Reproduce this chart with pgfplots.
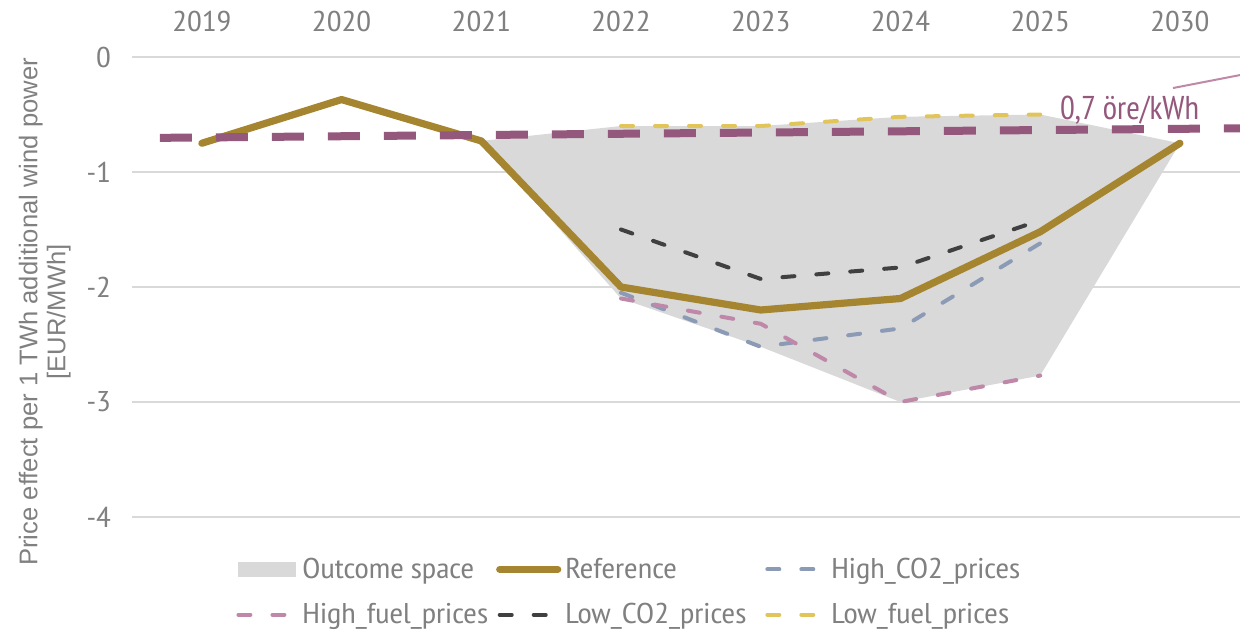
\documentclass[border=0pt]{standalone}
\usepackage{fontspec}
\setmainfont{PT Sans Narrow}[FakeStretch=1.15]
\newfontfamily\plainnarrow{PT Sans Narrow}
\newfontfamily\labfont{Liberation Sans}
\usepackage{pgfplots}
\pgfplotsset{compat=1.18}
\definecolor{refgold}{RGB}{166,133,48}
\definecolor{purp}{RGB}{149,88,125}
\definecolor{hco2}{RGB}{140,155,181}
\definecolor{hfuel}{RGB}{191,136,168}
\definecolor{lco2}{RGB}{64,64,64}
\definecolor{lfuel}{RGB}{226,197,90}
\definecolor{outc}{RGB}{217,217,217}
\definecolor{gridc}{RGB}{217,217,217}
\definecolor{txtgray}{RGB}{128,128,128}
\begin{document}
\begin{tikzpicture}
\begin{axis}[
  name=ax,
  scale only axis, width=554pt, height=230pt,
  xmin=-0.5, xmax=7.43, ymin=-4, ymax=0,
  axis line style={draw=none},
  tick style={draw=none},
  major tick length=0pt,
  ymajorgrids, grid style={gridc, line width=0.8pt},
  xtick={0,1,2,3,4,5,6,7},
  xticklabels={2019,2020,2021,2022,2023,2024,2025,2030},
  xticklabel pos=upper,
  xticklabel style={font=\fontsize{14.3}{16}\selectfont, text=txtgray, yshift=9pt},
  ytick={-4,-3,-2,-1,0},
  yticklabel style={font=\fontsize{14.3}{16}\selectfont, text=txtgray, xshift=-7pt},
  /pgf/number format/assume math mode=true,
  ylabel={Price effect per 1 TWh additional wind power\\{}[EUR/MWh]},
  ylabel style={align=center, font=\labfont\fontsize{12.8}{14}\selectfont, text=txtgray,
    at={(axis description cs:-0.049,0.446)}, anchor=south},
  legend columns=3,
  legend cell align=left,
  legend style={draw=none, fill=none, inner sep=0pt, font=\fontsize{14.3}{17}\selectfont, text=txtgray,
    at={(axis description cs:0.0939,-0.079)}, anchor=north west,
    /tikz/column 2/.style={column sep=2pt},
    /tikz/column 4/.style={column sep=7.5pt},
    row sep=7pt},
  legend image code/.code={\draw[#1] (0pt,0pt) -- (29pt,0pt);},
]
% Outcome space
\addplot[fill=outc, draw=none, area legend,
  legend image code/.code={\fill[outc] (0pt,-3.75pt) rectangle (29pt,3.75pt);}]
  coordinates {(2,-0.73) (3,-0.60) (4,-0.60) (5,-0.52) (6,-0.50) (7,-0.75)
               (6,-2.77) (5,-3.00) (4,-2.52) (3,-2.10) (2,-0.73)} -- cycle;
\addlegendentry{Outcome space}
% Reference
\addplot[refgold, line width=3.6pt, line cap=round, line join=round]
  coordinates {(0,-0.75) (1,-0.37) (2,-0.73) (3,-2.00) (4,-2.20) (5,-2.10) (6,-1.52) (7,-0.75)};
\addlegendentry{Reference}
% High CO2
\addplot[hco2, line width=2pt, line cap=round, dash pattern=on 6pt off 11pt]
  coordinates {(3,-2.05) (4,-2.52) (5,-2.36) (6,-1.62)};
\addlegendentry{High\_CO2\_prices}
% High fuel
\addplot[hfuel, line width=2pt, line cap=round, dash pattern=on 6pt off 11pt]
  coordinates {(3,-2.10) (4,-2.32) (5,-3.00) (6,-2.77)};
\addlegendentry{High\_fuel\_prices}
% Low CO2
\addplot[lco2, line width=2pt, line cap=round, dash pattern=on 6pt off 11pt]
  coordinates {(3,-1.50) (4,-1.93) (5,-1.83) (6,-1.42)};
\addlegendentry{Low\_CO2\_prices}
% Low fuel
\addplot[lfuel, line width=2pt, line cap=round, dash pattern=on 6pt off 11pt]
  coordinates {(3,-0.60) (4,-0.60) (5,-0.52) (6,-0.50)};
\addlegendentry{Low\_fuel\_prices}
% 0.7 ore/kWh line
\addplot[purp, line width=4pt, dash pattern=on 16pt off 12pt, forget plot]
  coordinates {(-0.30,-0.703) (7.43,-0.62)};
\addplot[hfuel, line width=1pt, forget plot]
  coordinates {(6.95,-0.27) (7.43,-0.157)};
\node[text=purp, font=\plainnarrow\fontsize{16.5}{18}\selectfont] at (axis cs:6.64,-0.462) {0,7 öre/kWh};
\end{axis}
\pgfresetboundingbox
\path ([xshift=-66pt,yshift=-57.5pt]ax.south west) rectangle ([yshift=28.5pt]ax.north east);
\end{tikzpicture}
\end{document}
